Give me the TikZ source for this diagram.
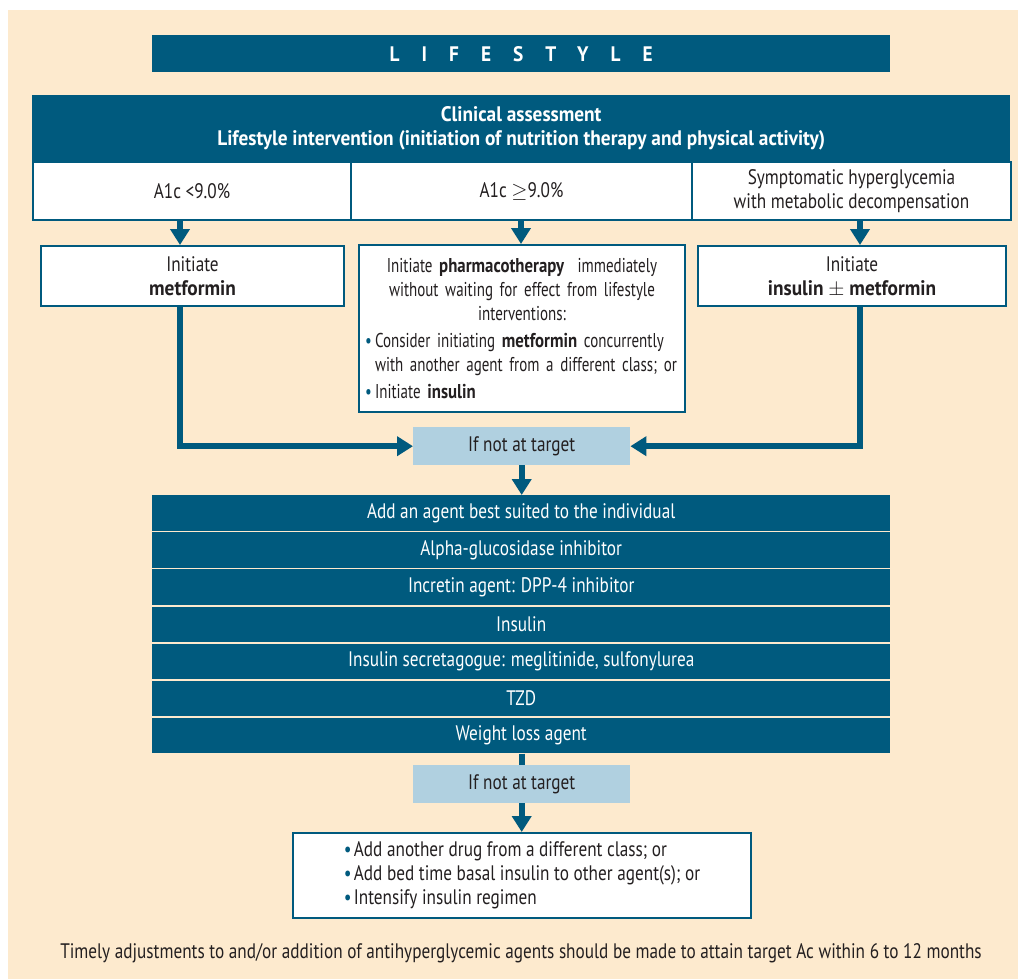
\documentclass[tikz,border=0pt]{standalone}
\usepackage{fontspec}
\setmainfont{PT Sans}[FakeStretch=0.82, BoldFeatures={FakeStretch=0.92}]
\newfontfamily\narrowfont{PT Sans}[FakeStretch=0.75, BoldFeatures={FakeStretch=0.84}]
\usetikzlibrary{positioning, arrows.meta}
\definecolor{navy}{RGB}{0,90,126}
\definecolor{paper}{RGB}{253,234,206}
\definecolor{pale}{RGB}{176,208,224}
\definecolor{ink}{RGB}{35,31,32}
\newcommand\dotitem{\makebox[10pt][l]{\textcolor{navy}{\textbullet}}}
\tikzset{
  band/.style={fill=navy, text=white, inner sep=0pt, anchor=north west},
  cell/.style={draw=navy, line width=2pt, fill=white, text=ink, align=center, inner sep=0pt, anchor=north west},
  check/.style={fill=pale, text=ink, inner sep=0pt, anchor=north west, minimum width=217, minimum height=38},
  flow/.style={draw=navy, line width=6pt, -{Triangle[width=19pt,length=16pt]}},
  link/.style={draw=navy, line width=6pt}
}
\begin{document}
\begin{tikzpicture}[x=1pt, y=-1pt, font=\fontsize{21}{24}\selectfont]
  \useasboundingbox (0,0) rectangle (1018,979);
  \fill[white] (0,0) rectangle (1018,979);
  \fill[paper] (8,10) rectangle (1018,979);
  % columns of the three branches
  \coordinate (colA) at (180,0);
  \coordinate (colB) at (521,0);
  \coordinate (colC) at (860,0);
  % top
  \node[band, minimum width=738, minimum height=37] (life) at (152,35)
    {\bfseries\addfontfeature{LetterSpace=105}LIFESTYLE};
  \node[band, minimum width=978, minimum height=66, align=center, font=\fontsize{21}{24}\selectfont\bfseries] (assess) at (32,95)
    {Clinical assessment\\Lifestyle intervention (initiation of nutrition therapy and physical activity)};
  \node[cell, minimum width=318, minimum height=58] (low) at (32,161) {A1c <9.0\%};
  \node[cell, minimum width=341, minimum height=58] (high) at (350,161) {A1c $\geq$9.0\%};
  \node[cell, minimum width=319, minimum height=58] (symp) at (691,161)
    {Symptomatic hyperglycemia\\with metabolic decompensation};
  % first treatment
  \node[cell, minimum width=326, minimum height=167, text width=314, align=left, font=\fontsize{20}{24}\narrowfont] (initB) at (358,244)
    {{\centering\mbox{Initiate \textbf{pharmacotherapy}\ \ immediately}\\\mbox{without waiting for effect from lifestyle}\\interventions:\par}
     \vspace{3pt}\mbox{\dotitem Consider initiating \textbf{metformin} concurrently}\\\mbox{\hspace*{10pt}with another agent from a different class; or}\par
     \vspace{3pt}\dotitem Initiate \textbf{insulin}};
  \node[cell, minimum width=303, minimum height=60] (initA) at (40,245) {Initiate\\\textbf{metformin}};
  \node[cell, minimum width=308, minimum height=60] (initC) at (697,245) {Initiate\\\textbf{insulin \smash{$\pm$} metformin}};
  \node[check] (target1) at (413,427) {If not at target};
  \draw[flow] (low.south -| colA) -- (initA.north -| colA);
  \draw[flow] (high.south -| colB) -- (initB.north -| colB);
  \draw[flow] (symp.south -| colC) -- (initC.north -| colC);
  \draw[flow] (initA.south -| colA) |- (target1.west);
  \draw[flow] (initC.south -| colC) |- (target1.east);
  % agents
  \foreach \txt [count=\i from 0] in {Add an agent best suited to the individual, Alpha-glucosidase inhibitor,
      Incretin agent: DPP-4 inhibitor, Insulin, {Insulin secretagogue: meglitinide, sulfonylurea}, TZD, Weight loss agent}
    \node[band, minimum width=738, minimum height=35.6] (agent\i) at (152,{495+\i*37.1}) {\txt};
  \draw[flow] (target1.south) -- (agent0.north -| target1.south);
  \node[check] (target2) at (413,765) {If not at target};
  \draw[link] (agent6.south -| target2.north) -- (target2.north);
  \node[cell, minimum width=458, minimum height=85, align=left] (final) at (292,832)
    {\dotitem Add another drug from a different class; or\\
     \dotitem Add bed time basal insulin to other agent(s); or\\
     \dotitem Intensify insulin regimen};
  \draw[flow] (target2.south) -- (final.north -| target2.south);
  \node[text=ink] (note) at (521,953)
    {Timely adjustments to and/or addition of antihyperglycemic agents should be made to attain target Ac within 6 to 12 months};
\end{tikzpicture}
\end{document}
